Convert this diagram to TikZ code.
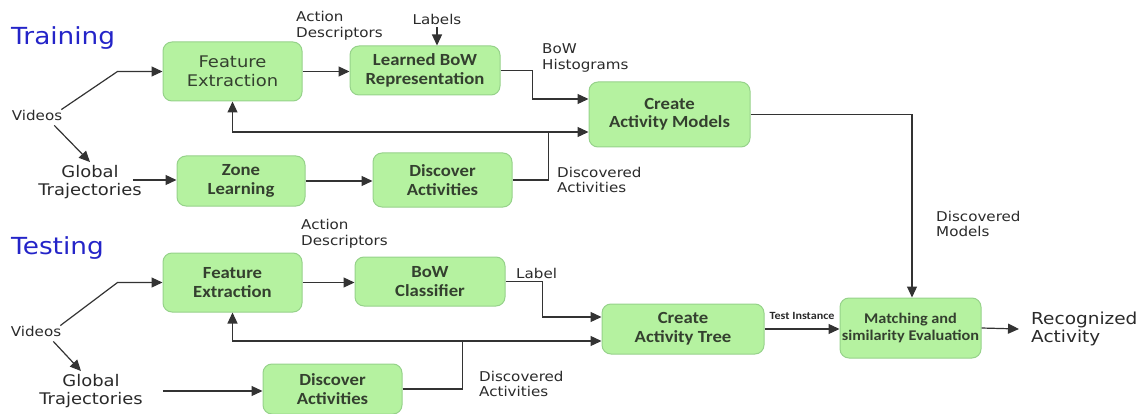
\documentclass[tikz,border=0pt]{standalone}
\usepackage{fontspec}
\usetikzlibrary{arrows.meta}
\newfontfamily\labfont{DejaVu Sans}[FakeStretch=1.12]
\newfontfamily\boxfont{Carlito}[FakeStretch=1.1]
\definecolor{boxfill}{HTML}{B5F2A0}
\definecolor{boxline}{HTML}{96D28A}
\definecolor{boxtext}{HTML}{34402F}
\definecolor{linegray}{HTML}{333333}
\definecolor{titleblue}{HTML}{2424C8}
\definecolor{labgray}{HTML}{2A2A2A}
\tikzset{
  stage/.style={draw=boxline, fill=boxfill, line width=1pt, rounded corners=9pt,
    align=center, text=boxtext, font=\boxfont\bfseries\fontsize{17}{18.5}\selectfont, inner sep=0pt},
  lab/.style={align=left, text=labgray, font=\labfont\fontsize{13.5}{15.5}\selectfont, inner sep=0pt},
  bigl/.style={align=center, text=labgray, font=\labfont\fontsize{16}{18}\selectfont, inner sep=0pt},
  heading/.style={anchor=west, text=titleblue, font=\labfont\fontsize{23.5}{25}\selectfont, inner sep=0pt},
  conn/.style={draw=linegray, line width=1.2pt},
  arr/.style={conn, -{Triangle[length=11pt,width=10pt]}}
}
\begin{document}
\begin{tikzpicture}[x=1pt,y=-1pt]
\useasboundingbox (0,0) rectangle (1147,414);

% ---------------- training ----------------
\node[heading] (trainT) at (11,38) {Training};
\node[stage, minimum width=139pt, minimum height=59pt, font=\labfont\fontsize{16}{19}\selectfont] (feA) at (232.5,71.5) {Feature\\Extraction};
\node[stage, minimum width=150pt, minimum height=49pt] (lbr) at (425,70.5) {Learned BoW\\Representation};
\node[stage, minimum width=161pt, minimum height=65pt] (cam) at (669.5,114.5) {Create\\Activity Models};
\node[stage, minimum width=128pt, minimum height=50pt] (zl) at (241,181) {Zone\\Learning};
\node[stage, minimum width=139pt, minimum height=54pt] (daA) at (442.5,180) {Discover\\Activities};

\node[lab, anchor=west] (adA) at (296,26) {Action\\Descriptors};
\node[lab] (labels) at (437,19) {Labels};
\node[lab, anchor=west] (bowh) at (542,58) {BoW\\Histograms};
\node[lab, anchor=west] (dacA) at (557,180) {Discovered\\Activities};
\node[lab, anchor=west] (dmod) at (936,224) {Discovered\\Models};
\node[lab] (vidA) at (37,115) {Videos};
\node[bigl] (gtA) at (90,182) {Global\\Trajectories};

\draw[arr] ([xshift=-1pt]vidA.north east) -- ([xshift=-45pt]feA.west) -- (feA.west);
\draw[arr] ([xshift=-8pt,yshift=-5pt]vidA.south east) -- ([xshift=0pt,yshift=3pt]gtA.north);
\draw[arr] ([xshift=-9pt,yshift=2pt]gtA.east) -- ([yshift=2pt]gtA.east -| zl.west);
\draw[arr] (zl.east) -- (zl.east -| daA.west);
\draw[arr] (feA.east) -- (feA.east -| lbr.west);
\draw[arr] (labels.south) ++(0,3) -- (labels.south |- lbr.north);
\draw[arr] (lbr.east) -- ([xshift=32pt]lbr.east) |- ([yshift=15.5pt]cam.west);
\coordinate (camInA) at ([yshift=-17.5pt]cam.west);
\coordinate (jA0) at ([xshift=36pt]daA.east);
\coordinate (jA) at (jA0 |- camInA);
\draw[conn] (daA.east) -- (jA0) -- (jA);
\draw[arr] (jA) -- (camInA);
\draw[arr] (jA) -| (feA.south);

% ---------------- testing ----------------
\node[heading] (testT) at (11,248) {Testing};
\node[stage, minimum width=139pt, minimum height=59pt] (feB) at (232.5,282.5) {Feature\\Extraction};
\node[stage, minimum width=150pt, minimum height=49pt] (bowc) at (430,281.5) {BoW\\Classifier};
\node[stage, minimum width=162pt, minimum height=50pt] (cat) at (683,329) {Create\\Activity Tree};
\node[stage, minimum width=141pt, minimum height=60pt, font=\boxfont\bfseries\fontsize{14.8}{17.5}\selectfont] (mse) at (910.5,328) {Matching and\\similarity Evaluation};
\node[stage, minimum width=139pt, minimum height=50pt] (daB) at (332.5,389) {Discover\\Activities};

\node[lab, anchor=west] (adB) at (301,234) {Action\\Descriptors};
\node[lab, anchor=west] (lbl) at (516,273) {Label};
\node[lab, anchor=west] (dacB) at (479,384) {Discovered\\Activities};
\node[text=labgray, font=\boxfont\bfseries\fontsize{11}{12}\selectfont, inner sep=0pt] (tinst) at (802,316) {Test Instance};
\node[bigl, anchor=west, align=left, font=\labfont\fontsize{16.5}{18}\selectfont] (rec) at (1031,329) {Recognized\\Activity};
\node[lab] (vidB) at (36,331) {Videos};
\node[bigl] (gtB) at (91,391) {Global\\Trajectories};

\draw[arr] (cam.east) -| ([xshift=1.5pt]mse.north);
\draw[arr] ([xshift=-1pt]vidB.north east) -- ([xshift=-45pt]feB.west) -- (feB.west);
\draw[arr] ([xshift=-8pt,yshift=-5pt]vidB.south east) -- ([xshift=-10pt,yshift=3pt]gtB.north);
\draw[arr] ([xshift=20pt]gtB.east) -- (gtB.east -| daB.west);
\draw[arr] (feB.east) -- (feB.east -| bowc.west);
\draw[arr] (bowc.east) -- ([xshift=37pt]bowc.east) |- ([yshift=12pt]cat.west);
\coordinate (catInB) at ([yshift=-12pt]cat.west);
\coordinate (jB0) at ([xshift=60pt]daB.east);
\coordinate (jB) at (jB0 |- catInB);
\draw[conn] (daB.east) -- (jB0) -- (jB);
\draw[arr] (jB) -- (catInB);
\draw[arr] (jB) -| (feB.south);
\draw[arr] (cat.east) -- (cat.east -| mse.west);
\draw[arr] (mse.east) -- ([xshift=-12pt]rec.west);
\end{tikzpicture}
\end{document}
